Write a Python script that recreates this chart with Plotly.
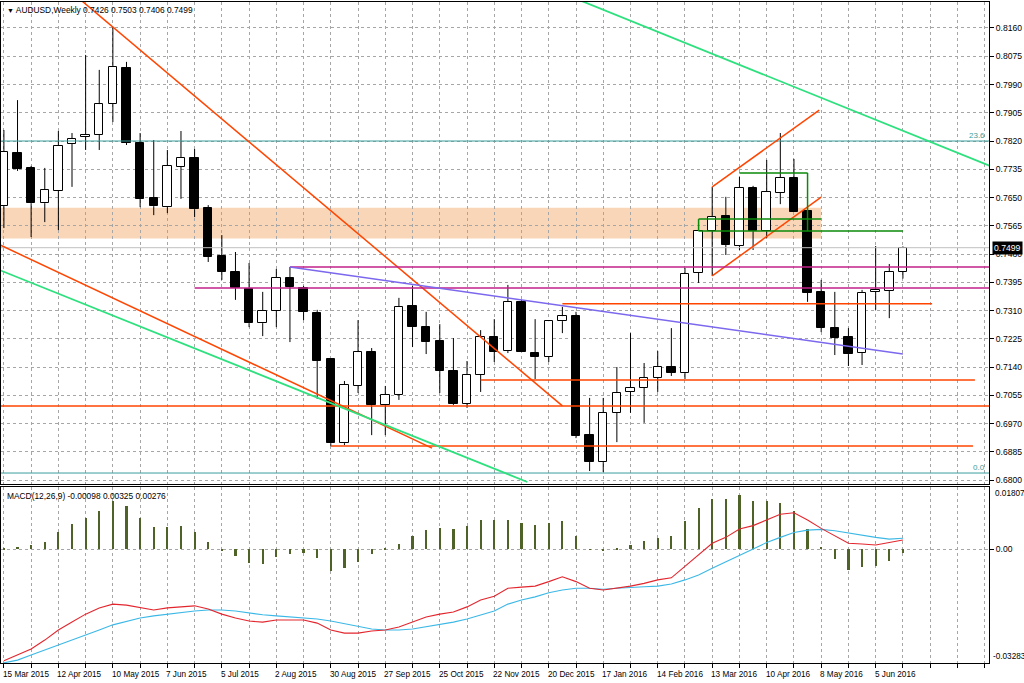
import pandas as pd
import plotly.graph_objects as go

# ---------------- data ----------------
dates = ["2015-03-15","2015-03-22","2015-03-29","2015-04-05","2015-04-12","2015-04-19","2015-04-26",
         "2015-05-03","2015-05-10","2015-05-17","2015-05-24","2015-05-31","2015-06-07","2015-06-14",
         "2015-06-21","2015-06-28","2015-07-05","2015-07-12","2015-07-19","2015-07-26","2015-08-02",
         "2015-08-09","2015-08-16","2015-08-23","2015-08-30","2015-09-06","2015-09-13","2015-09-20",
         "2015-09-27","2015-10-04","2015-10-11","2015-10-18","2015-10-25","2015-11-01","2015-11-08",
         "2015-11-15","2015-11-22","2015-11-29","2015-12-06","2015-12-13","2015-12-20","2015-12-27",
         "2016-01-03","2016-01-10","2016-01-17","2016-01-24","2016-01-31","2016-02-07","2016-02-14",
         "2016-02-21","2016-02-28","2016-03-06","2016-03-13","2016-03-20","2016-03-27","2016-04-03",
         "2016-04-10","2016-04-17","2016-04-24","2016-05-01","2016-05-08","2016-05-15","2016-05-22",
         "2016-05-29","2016-06-05","2016-06-12","2016-06-19"]

opens = [0.7624,0.7784,0.7739,0.7633,0.7670,0.7811,0.7832,0.7838,0.7931,0.8040,0.7814,0.7649,0.7621,0.7742,
         0.7769,0.7618,0.7474,0.7426,0.7375,0.7272,0.7309,0.7408,0.7378,0.7303,0.7164,0.6911,0.7083,0.7185,
         0.7026,0.7056,0.7324,0.7260,0.7218,0.7128,0.7029,0.7116,0.7230,0.7188,0.7336,0.7182,0.7170,0.7278,
         0.7293,0.6935,0.6854,0.7002,0.7065,0.7077,0.7107,0.7140,0.7122,0.7423,0.7549,0.7594,0.7504,0.7679,
         0.7549,0.7664,0.7709,0.7609,0.7366,0.7257,0.7230,0.7182,0.7366,0.7369,0.7426]
highs = [0.7853,0.7943,0.7745,0.7739,0.7850,0.7844,0.8079,0.8034,0.8163,0.8058,0.7844,0.7823,0.7793,0.7850,
         0.7796,0.7627,0.7537,0.7486,0.7453,0.7366,0.7435,0.7441,0.7384,0.7312,0.7167,0.7098,0.7281,0.7197,
         0.7083,0.7348,0.7384,0.7306,0.7269,0.7227,0.7158,0.7251,0.7284,0.7387,0.7342,0.7284,0.7281,0.7321,
         0.7306,0.7047,0.7047,0.7140,0.7242,0.7152,0.7188,0.7257,0.7438,0.7552,0.7682,0.7652,0.7712,0.7685,
         0.7763,0.7844,0.7766,0.7612,0.7402,0.7366,0.7257,0.7372,0.7504,0.7450,0.7503]
lows = [0.7558,0.7730,0.7531,0.7576,0.7552,0.7682,0.7793,0.7793,0.7877,0.7808,0.7621,0.7597,0.7603,0.7646,
        0.7591,0.7456,0.7402,0.7342,0.7260,0.7233,0.7260,0.7215,0.7281,0.7044,0.6902,0.6905,0.7062,0.6935,
        0.6935,0.7041,0.7200,0.7179,0.7062,0.7026,0.7017,0.7065,0.7155,0.7182,0.7185,0.7104,0.7155,0.7242,
        0.6926,0.6827,0.6824,0.6914,0.7002,0.6972,0.7065,0.7113,0.7104,0.7393,0.7414,0.7477,0.7492,0.7492,
        0.7528,0.7630,0.7606,0.7336,0.7245,0.7176,0.7143,0.7146,0.7312,0.7287,0.7406]
closes = [0.7787,0.7736,0.7633,0.7673,0.7805,0.7826,0.7838,0.7931,0.8043,0.7814,0.7646,0.7624,0.7745,0.7769,
          0.7615,0.7471,0.7426,0.7378,0.7272,0.7309,0.7408,0.7381,0.7306,0.7158,0.6911,0.7086,0.7185,0.7026,
          0.7056,0.7321,0.7260,0.7215,0.7128,0.7029,0.7116,0.7230,0.7185,0.7336,0.7185,0.7170,0.7278,0.7293,
          0.6932,0.6854,0.7002,0.7062,0.7077,0.7107,0.7140,0.7122,0.7420,0.7549,0.7591,0.7507,0.7679,0.7549,
          0.7667,0.7709,0.7606,0.7363,0.7257,0.7227,0.7179,0.7363,0.7372,0.7426,0.7499]

macd_hist = [0.0005,0.0008,0.0013,0.0021,0.0051,0.0074,0.0090,0.0112,0.0141,0.0126,0.0092,0.0066,0.0066,0.0068,
             0.0051,0.0022,-0.0003,-0.0019,-0.0038,-0.0042,-0.0023,-0.0013,-0.0011,-0.0026,-0.0061,-0.0054,
             -0.0035,-0.0012,0.0002,0.0017,0.0040,0.0055,0.0062,0.0058,0.0069,0.0085,0.0086,0.0085,0.0078,
             0.0071,0.0078,0.0083,0.0039,0.0001,-0.0002,0.0005,0.0013,0.0025,0.0034,0.0039,0.0083,0.0119,
             0.0145,0.0145,0.0158,0.0141,0.0140,0.0135,0.0112,0.0058,0.0008,-0.0028,-0.0059,-0.0051,-0.0048,
             -0.0032,-0.00098]
macd_red = [-0.0322,-0.0305,-0.0288,-0.0262,-0.0233,-0.0210,-0.0187,-0.0169,-0.0158,-0.0161,-0.0169,-0.0175,
            -0.0169,-0.0166,-0.0163,-0.0172,-0.0187,-0.0198,-0.0207,-0.0210,-0.0204,-0.0204,-0.0204,-0.0213,
            -0.0233,-0.0242,-0.0242,-0.0236,-0.0233,-0.0224,-0.0210,-0.0195,-0.0187,-0.0181,-0.0166,-0.0146,
            -0.0135,-0.0112,-0.0109,-0.0106,-0.0093,-0.0079,-0.0093,-0.0112,-0.0117,-0.0112,-0.0106,-0.0098,
            -0.0088,-0.0082,-0.0048,-0.0016,0.0018,0.0035,0.0059,0.0069,0.0085,0.0102,0.0106,0.0085,0.0061,
            0.0039,0.0018,0.0016,0.0013,0.0020,0.00276]
macd_cyan = [-0.0328,-0.0320,-0.0305,-0.0291,-0.0276,-0.0262,-0.0247,-0.0233,-0.0218,-0.0207,-0.0198,-0.0192,
             -0.0187,-0.0181,-0.0178,-0.0175,-0.0175,-0.0178,-0.0184,-0.0189,-0.0192,-0.0195,-0.0198,-0.0201,
             -0.0207,-0.0215,-0.0224,-0.0230,-0.0233,-0.0233,-0.0230,-0.0224,-0.0218,-0.0210,-0.0201,-0.0189,
             -0.0178,-0.0158,-0.0146,-0.0137,-0.0125,-0.0117,-0.0112,-0.0112,-0.0115,-0.0112,-0.0111,-0.0108,
             -0.0106,-0.0100,-0.0088,-0.0074,-0.0054,-0.0035,-0.0016,0.0001,0.0020,0.0035,0.0049,0.0056,0.0058,
             0.0054,0.0047,0.0040,0.0035,0.0030,0.00325]

price_ticks = [0.8160,0.8075,0.7990,0.7905,0.7820,0.7735,0.7650,0.7565,0.7480,0.7395,0.7310,0.7225,0.7140,
               0.7055,0.6970,0.6885,0.6800]
price_tick_text = ["0.8160","0.8075","0.7990","0.7905","0.7820","0.7735","0.7650","0.7565","0.7480","0.7395",
                   "0.7310","0.7225","0.7140","0.7055","0.6970","0.6885","0.6800"]
date_label_dates = dates[0::4]
date_label_text = ["15 Mar 2015","12 Apr 2015","10 May 2015","7 Jun 2015","5 Jul 2015","2 Aug 2015",
                   "30 Aug 2015","27 Sep 2015","25 Oct 2015","22 Nov 2015","20 Dec 2015","17 Jan 2016",
                   "14 Feb 2016","13 Mar 2016","10 Apr 2016","8 May 2016","5 Jun 2016"]
macd_range = [-0.03283, 0.01807]
last_bid = 0.7499
fib_levels = [0.7820, 0.6821]
fib_text = ["23.6", "0.0"]

# drawn objects (date, price) pairs
zone_peach = ("2015-03-01", 0.7527, "2016-05-08", 0.7619)
red_full = [0.7023]
red_segments = [("2015-04-12", 0.8301, "2015-12-27", 0.7023),
                ("2015-03-08", 0.7521, "2015-10-21", 0.6896),
                ("2015-11-15", 0.7101, "2016-07-26", 0.7101),
                ("2015-08-30", 0.6902, "2016-07-25", 0.6902),
                ("2015-12-27", 0.7330, "2016-07-04", 0.7330),
                ("2016-03-13", 0.7682, "2016-05-07", 0.7913),
                ("2016-03-13", 0.7414, "2016-05-08", 0.7651)]
magenta_segments = [("2015-08-09", 0.7441, "2016-08-10", 0.7441),
                    ("2015-06-21", 0.7378, "2016-08-10", 0.7378)]
purple_segments = [("2015-08-09", 0.7441, "2016-06-19", 0.7179)]
dkgreen_segments = [("2016-03-27", 0.7724, "2016-05-01", 0.7724),
                    ("2016-05-01", 0.7724, "2016-05-01", 0.7549),
                    ("2016-03-06", 0.7585, "2016-05-08", 0.7585),
                    ("2016-03-06", 0.7549, "2016-06-19", 0.7549),
                    ("2016-03-06", 0.7585, "2016-03-06", 0.7549)]
ltgreen_segments = [("2015-03-08", 0.7443, "2015-12-09", 0.6794),
                    ("2016-01-03", 0.8248, "2016-08-07", 0.7735)]

# ---------------- styling ----------------
FONT = "Liberation Sans, Arial, sans-serif"
FS = 8.6
GRID = "#A6A6A6"
WEEK_MS = 7 * 24 * 3600 * 1000
t0 = pd.Timestamp(dates[0])
x_lo = t0 - pd.Timedelta(days=7 * 0.213)
x_hi = t0 + pd.Timedelta(days=7 * 72.32)

fig = go.Figure()

up_x, up_b, up_h, dn_x, dn_b, dn_h = [], [], [], [], [], []
wx, wy = [], []
for d, o, h, l, c in zip(dates, opens, highs, lows, closes):
    top, bot = max(o, c), min(o, c)
    if c >= o:
        up_x.append(d); up_b.append(bot); up_h.append(top - bot)
    else:
        dn_x.append(d); dn_b.append(bot); dn_h.append(top - bot)
    wx += [d, d, None, d, d, None]
    wy += [top, h, None, bot, l, None]

fig.add_trace(go.Scatter(x=wx, y=wy, mode="lines", line=dict(color="black", width=1),
                         hoverinfo="skip", xaxis="x", yaxis="y"))
fig.add_trace(go.Bar(x=up_x, y=up_h, base=up_b, width=0.62 * WEEK_MS,
                     marker=dict(color="white", line=dict(color="black", width=1)), xaxis="x", yaxis="y"))
fig.add_trace(go.Bar(x=dn_x, y=dn_h, base=dn_b, width=0.62 * WEEK_MS,
                     marker=dict(color="black", line=dict(color="black", width=1)), xaxis="x", yaxis="y"))

fig.add_trace(go.Bar(x=dates, y=macd_hist, width=0.16 * WEEK_MS, marker=dict(color="#4F6228", line=dict(width=0)),
                     xaxis="x2", yaxis="y2"))
fig.add_trace(go.Scatter(x=dates, y=macd_cyan, mode="lines", line=dict(color="#3CB8E6", width=1.1),
                         xaxis="x2", yaxis="y2"))
fig.add_trace(go.Scatter(x=dates, y=macd_red, mode="lines", line=dict(color="#E3262E", width=1.1),
                         xaxis="x2", yaxis="y2"))

shapes = []
shapes.append(dict(type="rect", xref="x", yref="y", x0=zone_peach[0], y0=zone_peach[1], x1=zone_peach[2],
                   y1=zone_peach[3], fillcolor="#F9D6B7", line=dict(width=0), layer="below"))
shapes.append(dict(type="line", xref="x domain", yref="y", x0=0, x1=1, y0=last_bid, y1=last_bid,
                   line=dict(color="#C0C0C0", width=1), layer="above"))
for lv in fib_levels:
    shapes.append(dict(type="line", xref="x domain", yref="y", x0=0, x1=1, y0=lv, y1=lv,
                       line=dict(color="#3A9E9E", width=1), layer="above"))
for lv in red_full:
    shapes.append(dict(type="line", xref="x domain", yref="y", x0=0, x1=1, y0=lv, y1=lv,
                       line=dict(color="#FF4500", width=1.5), layer="above"))


def seg(lst, color, width):
    for (a, b, c, d) in lst:
        shapes.append(dict(type="line", xref="x", yref="y", x0=a, y0=b, x1=c, y1=d,
                           line=dict(color=color, width=width), layer="above"))


seg(red_segments, "#FF4500", 1.5)
seg(magenta_segments, "#C0208A", 1.5)
seg(purple_segments, "#7B68EE", 1.5)
seg(dkgreen_segments, "#0A8A0A", 1.5)
seg(ltgreen_segments, "#2EE07E", 1.8)

ann = []
ann.append(dict(xref="paper", yref="paper", x=0, y=1, xanchor="left", yanchor="top", xshift=4, yshift=-1,
                showarrow=False, text="<span style='font-size:7px'>▼</span> AUDUSD,Weekly 0.7426 0.7503 0.7406 0.7499",
                font=dict(family=FONT, size=8.4, color="black")))
ann.append(dict(xref="paper", yref="y2 domain", x=0, y=1, xanchor="left", yanchor="top", xshift=4, yshift=-2,
                showarrow=False, text="MACD(12,26,9) -0.00098 0.00325 0.00276",
                font=dict(family=FONT, size=8.4, color="black")))
for d, t in zip(date_label_dates, date_label_text):
    ann.append(dict(xref="x2", yref="paper", x=d, y=0, xanchor="left", yanchor="top", xshift=-3, yshift=-5,
                    showarrow=False, text=t, font=dict(family=FONT, size=8.2, color="black")))
ann.append(dict(xref="paper", yref="y", x=1, y=last_bid, xanchor="left", yanchor="middle", xshift=3,
                showarrow=False, text="0.7499", bgcolor="black", borderpad=1,
                font=dict(family=FONT, size=FS, color="white")))
for lv, t in zip(fib_levels, fib_text):
    ann.append(dict(xref="paper", yref="y", x=1, y=lv, xanchor="right", yanchor="bottom", xshift=-2, yshift=-1,
                    showarrow=False, text=t, font=dict(family=FONT, size=8, color="#3A9E9E")))
ann.append(dict(xref="paper", yref="y2", x=1, y=macd_range[1], xanchor="left", yanchor="top", xshift=4,
                showarrow=False, text="0.01807", font=dict(family=FONT, size=8.2, color="black")))
ann.append(dict(xref="paper", yref="y2", x=1, y=macd_range[0], xanchor="left", yanchor="bottom", xshift=2,
                showarrow=False, text="-0.03283", font=dict(family=FONT, size=8.2, color="black")))

axis_common = dict(showline=True, mirror=True, linecolor="black", linewidth=1)
fig.update_layout(
    width=1024, height=683,
    margin=dict(l=1, r=35, t=2, b=20),
    paper_bgcolor="white", plot_bgcolor="white",
    showlegend=False, barmode="overlay", bargap=0,
    font=dict(family=FONT, size=FS, color="black"),
    xaxis=dict(type="date", range=[x_lo, x_hi], domain=[0, 1], anchor="y",
               showgrid=True, gridcolor=GRID, griddash="3px,3px", gridwidth=1,
               tick0=dates[0], dtick=2 * WEEK_MS, showticklabels=False, ticks="", **axis_common),
    xaxis2=dict(type="date", matches="x", domain=[0, 1], anchor="y2",
                showgrid=True, gridcolor=GRID, griddash="3px,3px", gridwidth=1,
                tick0=dates[0], dtick=2 * WEEK_MS, showticklabels=False, ticks="outside", ticklen=4,
                tickcolor="black", **axis_common),
    yaxis=dict(domain=[0.2708, 1], range=[0.6788, 0.82382], side="right", anchor="x",
               tickvals=price_ticks, ticktext=price_tick_text, ticks="outside", ticklen=4, tickcolor="black",
               showgrid=True, gridcolor=GRID, griddash="3px,3px", gridwidth=1, zeroline=False,
               tickfont=dict(family=FONT, size=FS), **axis_common),
    yaxis2=dict(domain=[0, 0.2663], range=macd_range, side="right", anchor="x2",
                tickvals=[0], ticktext=["0.00"], ticks="outside", ticklen=4, tickcolor="black",
                showgrid=True, gridcolor=GRID, griddash="3px,3px", gridwidth=1, zeroline=False,
                tickfont=dict(family=FONT, size=FS), **axis_common),
    shapes=shapes, annotations=ann,
)

fig.write_html("out.html")
